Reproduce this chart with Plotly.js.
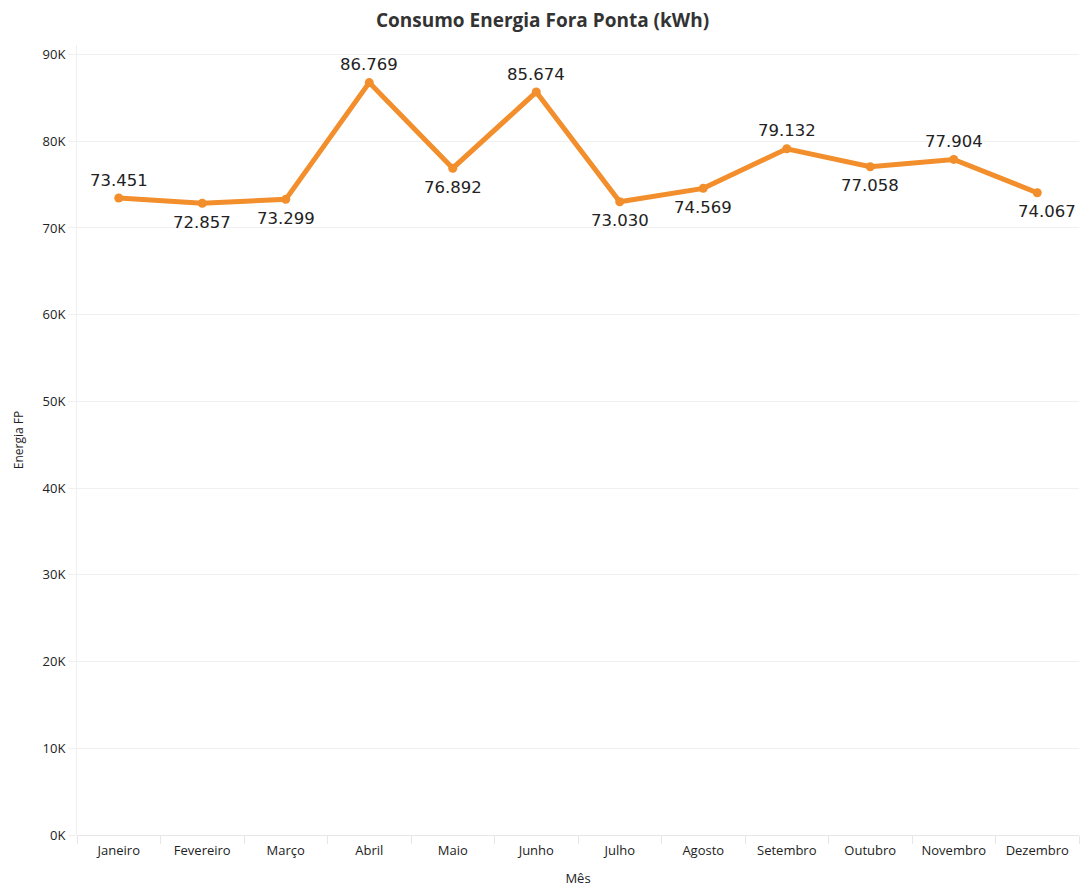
<!DOCTYPE html>
<html><head><meta charset="utf-8">
<script src="https://cdn.plot.ly/plotly-3.0.1.min.js"></script>
<style>body{margin:0;background:#fff}#c{width:1085px;height:890px}</style>
</head><body><div id="c"></div>
<script>
const months = ["Janeiro","Fevereiro","Março","Abril","Maio","Junho","Julho","Agosto","Setembro","Outubro","Novembro","Dezembro"];
const energiaFP = [73451,72857,73299,86769,76892,85674,73030,74569,79132,77058,77904,74067];
const labelAbove = [true,false,false,true,false,true,false,false,true,false,true,false];
const yTickVals = [0,10000,20000,30000,40000,50000,60000,70000,80000,90000];
const yTickText = ["0K","10K","20K","30K","40K","50K","60K","70K","80K","90K"];

const fmt = v => { const s = String(v); return s.slice(0, s.length-3) + "." + s.slice(-3); };
const FONT = "Open Sans, Noto Sans, sans-serif";

const trace = {
  x: months, y: energiaFP, type: "scatter", mode: "lines+markers",
  line: {color: "#F28E2B", width: 5},
  marker: {color: "#F28E2B", size: 9},
  cliponaxis: false, hoverinfo: "x+y"
};

const annotations = months.map((m, i) => ({
  x: m, y: energiaFP[i], xref: "x", yref: "y", text: fmt(energiaFP[i]), showarrow: false,
  yshift: labelAbove[i] ? 18 : -19, xshift: i === months.length - 1 ? 10 : 0,
  font: {family: "DejaVu Sans, Verdana, sans-serif", size: 16.5, color: "#222"}
}));

const layout = {
  width: 1085, height: 890,
  margin: {l: 77, r: 6, t: 45, b: 55},
  paper_bgcolor: "#fff", plot_bgcolor: "#fff",
  showlegend: false, annotations,
  title: {text: "<b>Consumo Energia Fora Ponta (kWh)</b>", x: 0.5, xanchor: "center", y: 0.977, yanchor: "middle",
          font: {family: FONT, size: 19, color: "#333"}},
  xaxis: {
    type: "category", range: [-0.5, 11.5], tickson: "boundaries", ticks: "outside", ticklen: 8, tickcolor: "#e6e6e6",
    ticklabelstandoff: 6,
    showgrid: false, showline: false, zeroline: false,
    tickfont: {family: FONT, size: 13, color: "#222"},
    title: {text: "Mês", font: {family: FONT, size: 13, color: "#222"}, standoff: 15}
  },
  yaxis: {
    range: [0, 91100], tickvals: yTickVals, ticktext: yTickText,
    showgrid: true, gridcolor: "#f0f0f0", gridwidth: 1,
    zeroline: true, zerolinecolor: "#e6e6e6", zerolinewidth: 1,
    showline: true, linecolor: "#efefef", linewidth: 1,
    ticks: "outside", ticklen: 8, tickcolor: "#f0f0f0",
    tickfont: {family: FONT, size: 13, color: "#222"},
    title: {text: "Energia FP", font: {family: FONT, size: 12, color: "#222"}, standoff: 16}
  }
};

Plotly.newPlot("c", [trace], layout, {displayModeBar: false, responsive: false});
</script></body></html>
